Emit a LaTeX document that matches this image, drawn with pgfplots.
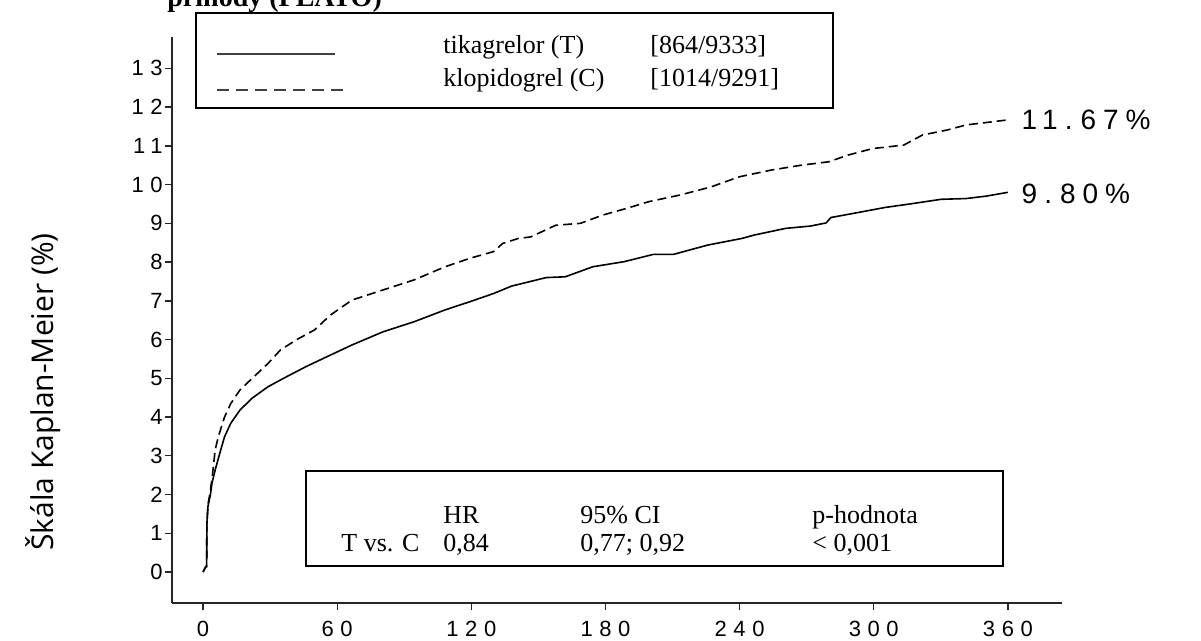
\documentclass[border=0pt]{standalone}
\usepackage{pgfplots}
\pgfplotsset{compat=1.18}
\usepackage{fontspec}
\setmainfont{Liberation Serif}
\newfontfamily\tickfont[LetterSpace=30]{Liberation Sans}
\newfontfamily\endfont[LetterSpace=25]{Liberation Sans}
\newfontfamily\ylabfont{Open Sans}

\pgfplotstableread{
x y
0 0
1.2 0.14
1.6 0.14
1.7 1.24
2.2 1.7
3.3 2.0
4 2.3
5.4 2.63
7.5 3.07
9.6 3.49
12.4 3.84
16.5 4.18
22 4.49
29 4.78
36 5.0
46 5.3
55.5 5.56
66.6 5.86
80.5 6.2
94.4 6.46
108 6.76
119.5 6.98
130 7.19
138 7.38
153.5 7.6
162 7.62
174.4 7.88
188.3 8.01
201.5 8.2
210.5 8.2
225.8 8.44
241 8.61
246.7 8.7
260.6 8.87
271.7 8.93
278.7 9.01
280.8 9.15
291.2 9.26
305.1 9.41
316.2 9.5
330.1 9.62
341.3 9.64
350 9.7
360 9.80
}\tika

\pgfplotstableread{
x y
0 0
1.2 0.14
1.6 0.14
1.7 1.24
2.2 1.75
3.0 2.0
4 2.4
5.4 3.15
6.8 3.49
9.6 4.0
12.4 4.35
16.5 4.7
22 5.0
29 5.38
34.6 5.73
41.6 5.99
49.9 6.25
56.9 6.63
66.6 7.02
80.5 7.28
94.4 7.54
108.3 7.88
119.5 8.1
129.9 8.27
134 8.48
141 8.61
146.6 8.65
157.7 8.95
168.8 9.0
178.6 9.21
189.7 9.39
199.4 9.56
213.3 9.73
227.2 9.94
239.8 10.2
243.9 10.25
253.7 10.37
267.5 10.5
280 10.59
288.4 10.76
299.5 10.93
313.4 11.02
321.8 11.28
332.9 11.41
341.3 11.54
350 11.6
360 11.67
}\klop

\begin{document}
\begin{tikzpicture}[x=0.5pt,y=0.5pt]
\begin{axis}[
  at={(86pt,19pt)}, anchor=south west,
  width=445pt, height=283pt, scale only axis,
  xmin=-13.9, xmax=384.2, ymin=-0.8, ymax=13.81,
  axis lines=left,
  axis line style={-, line width=0.8pt, black!85},
  xtick={0,60,120,180,240,300,360},
  xticklabels={0,60,120,180,240,300,360},
  ytick={0,1,2,3,4,5,6,7,8,9,10,11,12,13},
  yticklabels={0,1,2,3,4,5,6,7,8,9,10,11,12,13},
  tick align=outside, major tick length=3.5pt,
  tick style={line width=0.7pt, black!85},
  xticklabel style={font=\tickfont\fontsize{11}{13}\selectfont, yshift=-2pt},
  yticklabel style={font=\tickfont\fontsize{11}{13}\selectfont, inner sep=1pt},
  clip=false,
]
\addplot[line width=0.8pt, black] table[x=x,y=y] {\tika};
\addplot[line width=0.8pt, black, dash pattern=on 4.5pt off 2.5pt] table[x=x,y=y] {\klop};
\node[anchor=west, inner sep=0pt, font=\endfont\fontsize{14}{16}\selectfont] at (axis cs:366,11.67) {11.\hspace{4pt}67\%};
\node[anchor=west, inner sep=0pt, font=\endfont\fontsize{14}{16}\selectfont] at (axis cs:366,9.75) {9.\hspace{4pt}80\%};
\end{axis}

% title (partly cut off at top)
\node[anchor=base west, inner sep=0pt, font=\bfseries\fontsize{14}{16}\selectfont] at (167,634) {příhody (PLATO)};

% legend box
\draw[fill=white, line width=0.8pt] (196,628) rectangle (833,533);
\draw[line width=0.7pt, black!75] (217,587) -- (335,587);
\draw[line width=0.7pt, black!75, dash pattern=on 6pt off 3.5pt] (217,551) -- (343,551);
\node[anchor=base west, inner sep=0pt, font=\fontsize{13}{15}\selectfont] at (443,587) {tikagrelor (T)};
\node[anchor=base west, inner sep=0pt, font=\fontsize{13}{15}\selectfont] at (650,587) {[864/9333]};
\node[anchor=base west, inner sep=0pt, font=\fontsize{13}{15}\selectfont] at (443,554) {klopidogrel (C)};
\node[anchor=base west, inner sep=0pt, font=\fontsize{13}{15}\selectfont] at (650,554) {[1014/9291]};

% stats box
\draw[line width=0.8pt] (306,170) rectangle (1003,75);
\node[anchor=base west, inner sep=0pt, font=\fontsize{13}{15}\selectfont] at (443,117) {HR};
\node[anchor=base west, inner sep=0pt, font=\fontsize{13}{15}\selectfont] at (580,117) {95\% CI};
\node[anchor=base west, inner sep=0pt, font=\fontsize{13}{15}\selectfont] at (812,117) {p-hodnota};
\node[anchor=base west, inner sep=0pt, font=\fontsize{13}{15}\selectfont] at (341,89) {T vs. C};
\node[anchor=base west, inner sep=0pt, font=\fontsize{13}{15}\selectfont] at (443,89) {0,84};
\node[anchor=base west, inner sep=0pt, font=\fontsize{13}{15}\selectfont] at (580,89) {0,77; 0,92};
\node[anchor=base west, inner sep=0pt, font=\fontsize{13}{15}\selectfont] at (812,89) {< 0,001};

% y label
\node[rotate=90, anchor=base, inner sep=0pt, font=\ylabfont\fontsize{15}{18}\selectfont] at (53,249) {Škála Kaplan-Meier (\%)};

\pgfresetboundingbox
\path (0,0) rectangle (1201,641);
\end{tikzpicture}
\end{document}
